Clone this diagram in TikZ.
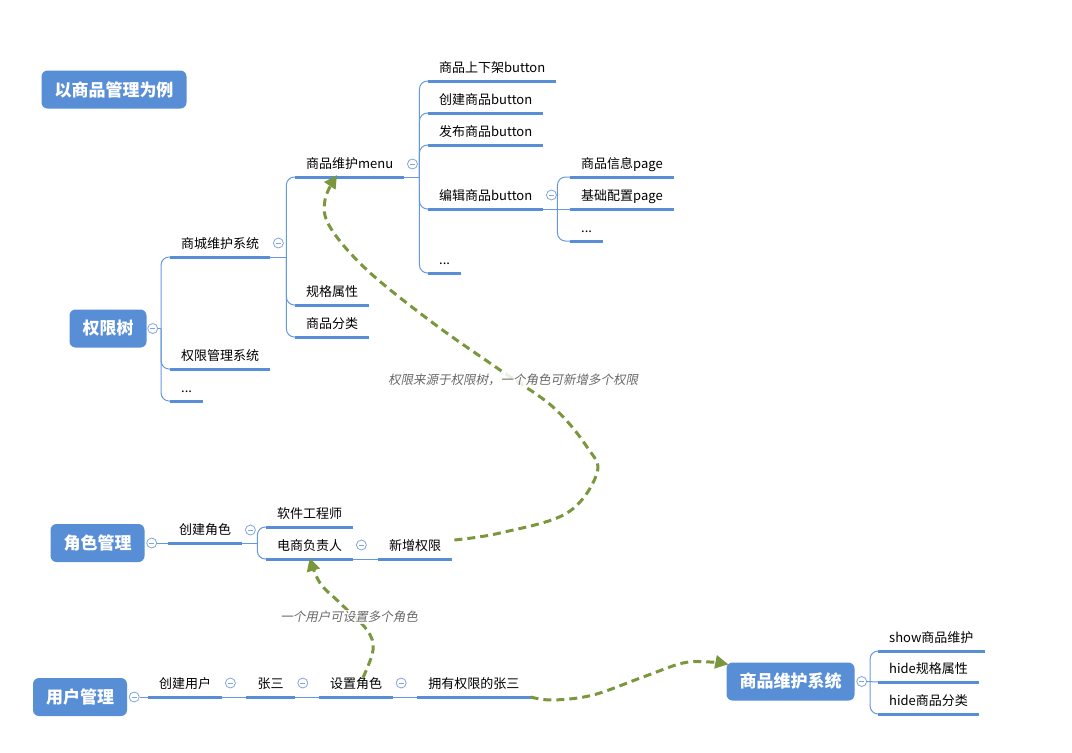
\documentclass[tikz,border=0pt]{standalone}
\usepackage{fontspec}
\setmainfont{Noto Sans CJK SC}
\newfontfamily\slantcjk[FakeSlant=0.2]{Noto Sans CJK SC}
\usepackage{tikz}
\usetikzlibrary{positioning, arrows.meta, calc}
\definecolor{mapblue}{RGB}{88,142,214}
\definecolor{lineblue}{RGB}{104,152,220}
\definecolor{foldblue}{RGB}{130,165,220}
\definecolor{linkgreen}{RGB}{122,151,62}
\definecolor{notegray}{RGB}{105,105,105}
\newcommand{\topicfont}{\fontsize{13}{15}\selectfont}
\newcommand{\rootfont}{\fontsize{17}{19}\selectfont\bfseries}
\newcommand{\remarkfont}{\fontsize{12.5}{14}\selectfont\slantcjk}

\begin{document}
\begin{tikzpicture}[x=1pt, y=-1pt,
  root/.style={fill=mapblue, text=white, font=\rootfont, rounded corners=6pt, minimum height=38pt, inner xsep=13pt},
  topic/.style={anchor=south west, font=\topicfont, inner xsep=11pt, inner ysep=5pt, text height=10pt, text depth=3pt,
    append after command={(\tikzlastnode.south west) edge[uline] (\tikzlastnode.south east)}},
  uline/.style={draw=mapblue, line width=3pt},
  branch/.style={draw=lineblue, line width=1pt, rounded corners=8pt},
  fold/.style={circle, draw=foldblue, fill=white, line width=0.8pt, minimum size=10pt, inner sep=0pt,
    path picture={\draw[foldblue, line width=0.8pt] ([xshift=-2.6pt]path picture bounding box.center) -- ([xshift=2.6pt]path picture bounding box.center);}},
  link/.style={draw=linkgreen, line width=3pt, dash pattern=on 8pt off 5pt, -{Triangle[length=13pt, width=13pt]}},
  remark/.style={font=\remarkfont, text=notegray, fill=white, fill opacity=0.85, text opacity=1, inner sep=1pt}]
  \useasboundingbox (0,0) rectangle (1072,753);

  \node[root] (title) at (114,89.5) {以商品管理为例};

  \node[root] (tree) at (108,328.5) {权限树};
  \node[fold] (treef) at ($(tree.east)+(6,0)$) {};
  \coordinate (treej) at ($(treef.east)+(3,0)$);
  \node[topic] (mall) at (170,257) {商城维护系统};
  \node[topic] (permsys) at (170,369) {权限管理系统};
  \node[topic] (treemore) at (170,401) {...};
  \draw[branch] (treef.east) -- (treej);
  \foreach \c in {mall, permsys, treemore} \draw[branch] (treej) |- (\c.south west);

  \node[fold] (mallf) at ($(mall.south east)+(8,-14)$) {};
  \coordinate (mallj) at ($(mall.south east)+(16,0)$);
  \node[topic] (menu) at (295,177) {商品维护menu};
  \node[topic] (spec) at (295,305) {规格属性};
  \node[topic] (cat) at (295,337) {商品分类};
  \draw[branch] (mall.south east) -- (mallj);
  \foreach \c in {menu, spec, cat} \draw[branch] (mallj) |- (\c.south west);

  \node[fold] (menuf) at ($(menu.south east)+(8,-13)$) {};
  \coordinate (menuj) at ($(menu.south east)+(15,0)$);
  \node[topic] (shelf) at (428,81) {商品上下架button};
  \node[topic] (newgood) at (428,113) {创建商品button};
  \node[topic] (pub) at (428,145) {发布商品button};
  \node[topic] (edit) at (428,209) {编辑商品button};
  \node[topic] (menumore) at (428,273) {...};
  \draw[branch] (menu.south east) -- (menuj);
  \foreach \c in {shelf, newgood, pub, edit, menumore} \draw[branch] (menuj) |- (\c.south west);

  \node[fold] (editf) at ($(edit.south east)+(8,-14)$) {};
  \coordinate (editj) at ($(edit.south east)+(14,0)$);
  \node[topic] (info) at (570,177) {商品信息page};
  \node[topic] (base) at (570,209) {基础配置page};
  \node[topic] (editmore) at (570,241) {...};
  \draw[branch] (edit.south east) -- (base.south west);
  \foreach \c in {info, editmore} \draw[branch] (editj) |- (\c.south west);

  \node[root] (role) at (97.5,543) {角色管理};
  \node[fold] (rolef) at ($(role.east)+(7,0)$) {};
  \node[topic] (newrole) at (168,543) {创建角色};
  \draw[branch] (rolef.east) -- (newrole.south west);
  \node[fold] (newrolef) at ($(newrole.south east)+(8,-13)$) {};
  \coordinate (newrolej) at ($(newrole.south east)+(15,0)$);
  \node[topic] (engineer) at (266,527) {软件工程师};
  \node[topic] (owner) at (266,559) {电商负责人};
  \draw[branch] (newrole.south east) -- (newrolej);
  \foreach \c in {engineer, owner} \draw[branch] (newrolej) |- (\c.south west);
  \node[fold] (ownerf) at ($(owner.south east)+(8,-14)$) {};
  \node[topic] (addperm) at (378,559) {新增权限};
  \draw[branch] (owner.south east) -- (addperm.south west);

  \node[root] (user) at (80,697) {用户管理};
  \node[fold] (userf) at ($(user.east)+(7,0)$) {};
  \node[topic] (newuser) at (148,697) {创建用户};
  \node[topic] (zhang) at ($(newuser.south east)+(24,0)$) {张三};
  \node[topic] (setrole) at ($(zhang.south east)+(24,0)$) {设置角色};
  \node[topic] (zhangp) at ($(setrole.south east)+(24,0)$) {拥有权限的张三};
  \draw[branch] (userf.east) -- (newuser.south west);
  \foreach \a/\b in {newuser/zhang, zhang/setrole, setrole/zhangp} {
    \draw[branch] (\a.south east) -- (\b.south west);
    \node[fold] at ($(\a.south east)+(8,-14)$) {};
  }

  \node[root] (goodsys) at (790.5,681.5) {商品维护系统};
  \node[fold] (goodsysf) at ($(goodsys.east)+(7,0)$) {};
  \coordinate (goodsysj) at ($(goodsysf.east)+(3,0)$);
  \node[topic] (showgood) at (878,651) {show商品维护};
  \node[topic] (hidespec) at (878,682) {hide规格属性};
  \node[topic] (hidecat) at (878,714) {hide商品分类};
  \draw[branch] (goodsysf.east) -- (hidespec.south west);
  \foreach \c in {showgood, hidecat} \draw[branch] (goodsysj) |- (\c.south west);

  \coordinate (l1s) at ($(addperm.south east)+(2,-19)$);
  \coordinate (l1e) at ($(menu.south west)+(42,-2)$);
  \draw[link] plot[smooth, tension=0.6] coordinates {(l1s) (500,533) (567,513) (597,473) (587,447) (553,407) (500,370) (433,323) (367,270) (330,227) (325,200) (l1e)};
  \coordinate (l2s) at ($(setrole.north)+(7,4)$);
  \coordinate (l2e) at ($(owner.south)+(0,-1)$);
  \draw[link] plot[smooth, tension=0.6] coordinates {(l2s) (373,650) (367,630) (340,603) (320,583) (l2e)};
  \coordinate (l3s) at (zhangp.south east);
  \coordinate (l3e) at ($(goodsys.north west)+(2,2)$);
  \draw[link] plot[smooth, tension=0.6] coordinates {(l3s) (553,700) (593,695) (643,677) (683,663) (710,662) (l3e)};

  \node[remark] (permnote) at (513,380) {权限来源于权限树，一个角色可新增多个权限};
  \node[remark] (rolenote) at (349,617) {一个用户可设置多个角色};
\end{tikzpicture}
\end{document}
